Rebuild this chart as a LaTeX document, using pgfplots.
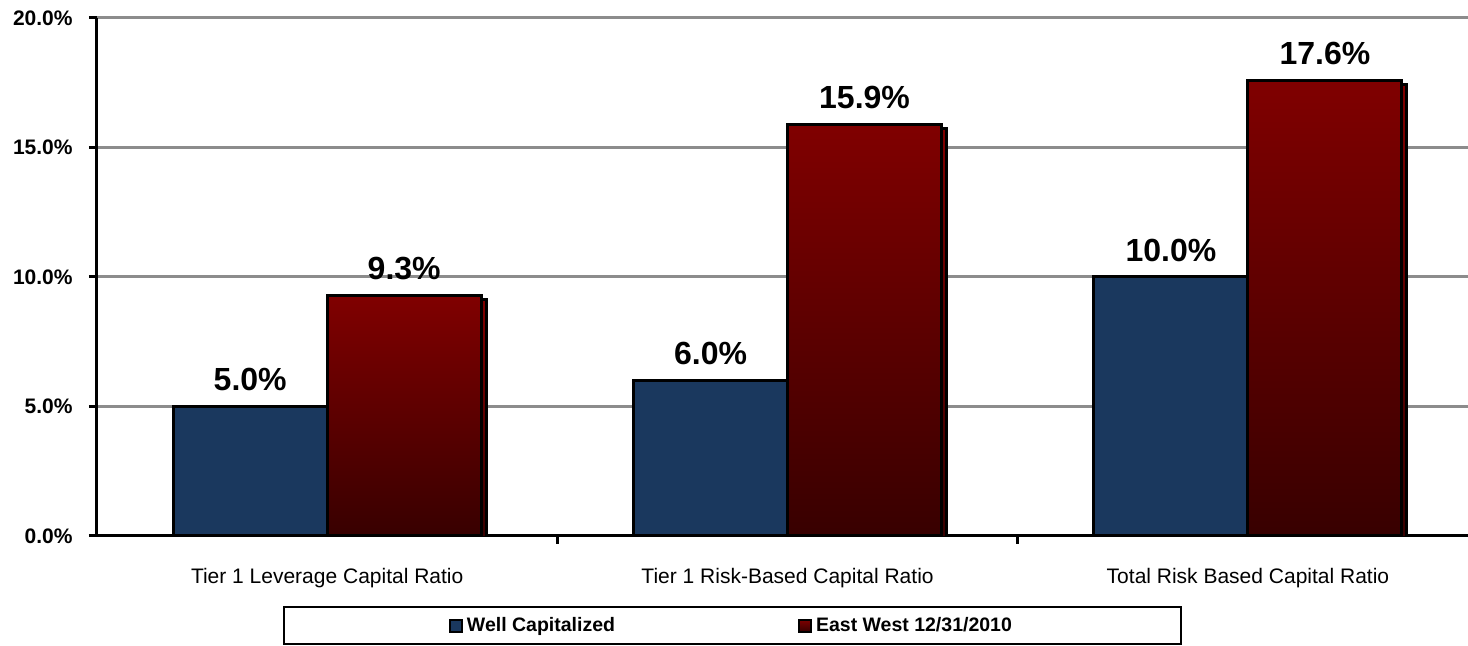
\documentclass[border=0pt]{standalone}
\usepackage{pgfplots}
\pgfplotsset{compat=1.18}
\usetikzlibrary{calc}
\usepackage{fontspec}
\setmainfont{Liberation Sans}

\definecolor{wellblue}{HTML}{1A385E}
\definecolor{ewtop}{HTML}{800000}
\definecolor{ewbot}{HTML}{380000}
\definecolor{gridgray}{HTML}{8C8C8C}

% red bars: own gradient per bar, thin dark shadow on the right
\pgfplotsset{ewbar/.style={draw=black, line width=1.5pt, top color=ewtop, bottom color=ewbot,
    bar shift=38.5pt, forget plot,
    preaction={fill=black, transform canvas={xshift=2.5pt, yshift=-2pt}}}}

\begin{document}
\begin{tikzpicture}
\begin{axis}[
    name=ax,
    scale only axis,
    width=685.5pt, height=259pt,
    ybar, bar width=77pt,
    xmin=-0.5, xmax=2.478,
    ymin=0, ymax=20,
    axis lines*=left,
    axis line style={line width=1.5pt},
    ytick={0,5,10,15,20},
    ymajorgrids,
    grid style={gridgray, line width=1.5pt},
    tick align=outside,
    major tick length=4pt,
    tick style={black, line width=1.5pt},
    xtick={0.5,1.5}, xticklabels={},
    extra x ticks={0,1,2},
    extra x tick labels={Tier 1 Leverage Capital Ratio, Tier 1 Risk-Based Capital Ratio, Total Risk Based Capital Ratio},
    extra x tick style={major tick length=0pt,
        tick label style={font=\fontsize{10.5}{12}\selectfont, inner sep=0pt, anchor=north, yshift=-16pt}},
    /pgf/number format/assume math mode=true,
    yticklabel={\pgfmathprintnumber[fixed,fixed zerofill,precision=1]{\tick}\%},
    yticklabel style={font=\bfseries\fontsize{10.5}{12}\selectfont, inner sep=0pt, xshift=-8pt},
    nodes near coords={\pgfmathprintnumber[fixed,fixed zerofill,precision=1]{\pgfplotspointmeta}\%},
    every node near coord/.append style={font=\bfseries\fontsize{16}{19}\selectfont, inner sep=0pt, yshift=7pt, black},
    legend columns=2,
    legend style={at={(0.4635,-0.1728)}, anchor=center, draw=black, line width=1pt,
        inner xsep=82.5pt, inner ysep=3pt,
        font=\bfseries\fontsize{9.75}{11}\selectfont,
        /tikz/every even column/.append style={column sep=89.5pt},
        cells={anchor=west, inner xsep=1pt}},
    legend image code/.code={\draw[#1, line width=1pt, draw=black] (2pt,-3pt) rectangle (8pt,3pt);},
]
\addlegendimage{fill=wellblue}
\addlegendimage{top color=ewtop, bottom color=ewbot}
\addplot[fill=wellblue, draw=black, line width=1.5pt, bar shift=-38.5pt, forget plot]
    coordinates {(0,5.0) (1,6.0) (2,10.0)};
\addplot[ewbar] coordinates {(0,9.3)};
\addplot[ewbar] coordinates {(1,15.9)};
\addplot[ewbar] coordinates {(2,17.6)};
\legend{Well Capitalized, East West 12/31/2010}
\end{axis}
\pgfresetboundingbox
\path ($(ax.south west)+(-48.5pt,-55pt)$) rectangle ($(ax.north east)+(0pt,9pt)$);
\end{tikzpicture}
\end{document}
